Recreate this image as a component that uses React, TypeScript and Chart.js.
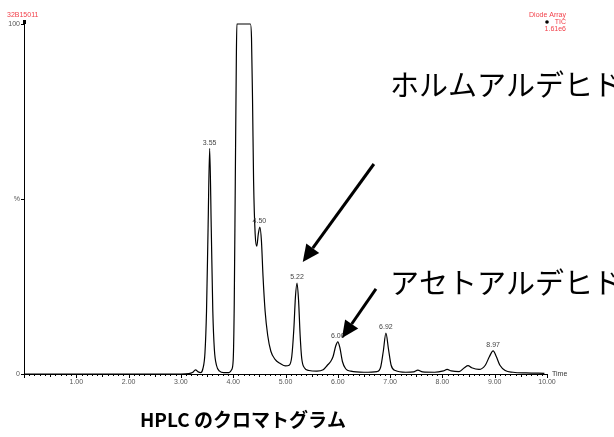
import React, { useEffect, useRef } from "react";
import { Chart, registerables } from "chart.js";

Chart.register(...registerables);

// Retention time (min) and intensity (%)
const times = [
  0.0, 0.5, 1.0, 1.5, 2.0, 2.5, 3.0, 3.15, 3.22, 3.28, 3.33, 3.38, 3.42, 3.46, 3.49, 3.52, 3.55,
  3.58, 3.61, 3.64, 3.68, 3.74, 3.82, 3.92, 3.97, 4.0, 4.02, 4.04, 4.06, 4.07, 4.33, 4.35, 4.37,
  4.39, 4.42, 4.45, 4.48, 4.51, 4.54, 4.57, 4.61, 4.66, 4.72, 4.8, 4.9, 5.0, 5.07, 5.12, 5.16,
  5.19, 5.22, 5.25, 5.28, 5.31, 5.36, 5.45, 5.6, 5.72, 5.8, 5.86, 5.91, 5.96, 6.0, 6.04, 6.09,
  6.15, 6.25, 6.5, 6.75, 6.82, 6.87, 6.92, 6.97, 7.02, 7.1, 7.3, 7.45, 7.53, 7.62, 7.85, 8.02,
  8.09, 8.17, 8.32, 8.42, 8.49, 8.56, 8.7, 8.82, 8.9, 8.97, 9.03, 9.1, 9.2, 9.35, 9.6, 9.95,
];
const signal = [
  0, 0, 0, 0, 0, 0, 0, 0.1, 0.4, 1.2, 0.6, 0.4, 1.5, 6, 18, 42, 64.5,
  42, 18, 7, 2.5, 0.8, 0.4, 0.4, 1.2, 4, 20, 55, 90, 100, 100, 96, 78,
  55, 40, 36.5, 40, 42, 38, 28, 18, 11, 6.5, 4.2, 3, 2.3, 2.5, 5, 13,
  22, 26, 21, 11, 4.5, 1.8, 1.0, 0.8, 1.2, 2.5, 3.5, 5, 8, 9.2, 7.5, 3.5,
  1.5, 0.8, 0.5, 0.7, 2, 6.5, 11.7, 7, 2.5, 1, 0.5, 0.6, 1.1, 0.6, 0.5, 0.9,
  1.3, 0.9, 0.7, 1.8, 2.4, 1.8, 1.3, 2.5, 5, 6.6, 5, 2.5, 1, 0.5, 0.3, 0.2,
];

const peakTimes = [3.55, 4.5, 5.22, 6.0, 6.92, 8.97];
const peakHeights = [64.5, 42, 26, 9.2, 11.7, 6.6];
const peakLabels = ["3.55", "4.50", "5.22", "6.00", "6.92", "8.97"];

const yTickValues = [0, 50, 100];
const yTickLabels = ["0", "%", "100"];

// Annotations (data coordinates)
const annotationTexts = ["ホルムアルデヒド", "アセトアルデヒド"];
const annotationTextPos = [
  [7.0, 82.6],
  [7.0, 26],
];
const arrowStarts = [
  [6.69, 60],
  [6.73, 24.3],
];
const arrowTips = [
  [5.33, 32],
  [6.08, 10.3],
];

const chartTitle = "HPLC のクロマトグラム";
const sampleId = "32B15011";
const detectorLines = ["Diode Array", "TIC", "1.61e6"];

const SMALL = "7px 'Liberation Sans', Arial, sans-serif";
const RED = "#f2404a";

function drawArrow(ctx: CanvasRenderingContext2D, x1: number, y1: number, x2: number, y2: number) {
  const ang = Math.atan2(y2 - y1, x2 - x1);
  const headLen = 17;
  const headW = 8;
  const bx = x2 - headLen * Math.cos(ang);
  const by = y2 - headLen * Math.sin(ang);
  ctx.save();
  ctx.strokeStyle = "#000";
  ctx.fillStyle = "#000";
  ctx.lineWidth = 3;
  ctx.beginPath();
  ctx.moveTo(x1, y1);
  ctx.lineTo(bx, by);
  ctx.stroke();
  ctx.beginPath();
  ctx.moveTo(x2, y2);
  ctx.lineTo(bx + headW * Math.sin(ang), by - headW * Math.cos(ang));
  ctx.lineTo(bx - headW * Math.sin(ang), by + headW * Math.cos(ang));
  ctx.closePath();
  ctx.fill();
  ctx.restore();
}

const decorPlugin = {
  id: "decor",
  afterDraw(chart: any) {
    const ctx: CanvasRenderingContext2D = chart.ctx;
    const xs = chart.scales.x;
    const ys = chart.scales.y;
    const area = chart.chartArea;
    ctx.save();

    // x minor/major ticks
    ctx.strokeStyle = "#000";
    ctx.lineWidth = 1;
    for (let i = 0; i <= 100; i++) {
      const px = Math.round(xs.getPixelForValue(i / 10)) + 0.5;
      const len = i % 10 === 0 ? 4 : i % 5 === 0 ? 3 : 2;
      ctx.beginPath();
      ctx.moveTo(px, area.bottom);
      ctx.lineTo(px, area.bottom + len);
      ctx.stroke();
    }
    // y ticks
    yTickValues.forEach((v) => {
      const py = Math.round(ys.getPixelForValue(v)) + 0.5;
      ctx.beginPath();
      ctx.moveTo(area.left - 3, py);
      ctx.lineTo(area.left, py);
      ctx.stroke();
    });
    // top marker on y axis
    ctx.fillStyle = "#000";
    ctx.fillRect(area.left - 1, area.top - 4, 3, 4);

    // "Time" axis title
    ctx.font = SMALL;
    ctx.fillStyle = "#333";
    ctx.textAlign = "left";
    ctx.textBaseline = "middle";
    ctx.fillText("Time", area.right + 5, area.bottom);

    // peak labels
    ctx.fillStyle = "#444";
    ctx.textAlign = "center";
    ctx.textBaseline = "bottom";
    peakTimes.forEach((t, i) => {
      ctx.fillText(peakLabels[i], xs.getPixelForValue(t), ys.getPixelForValue(peakHeights[i]) - 2);
    });

    // header texts
    ctx.fillStyle = RED;
    ctx.textBaseline = "middle";
    ctx.textAlign = "left";
    ctx.fillText(sampleId, 7, 15);
    ctx.textAlign = "right";
    ctx.fillText(detectorLines[0], 566, 15);
    ctx.fillText(detectorLines[1], 566, 22.5);
    ctx.fillText(detectorLines[2], 566, 29.5);
    ctx.fillStyle = "#000";
    ctx.beginPath();
    ctx.arc(547, 22, 1.8, 0, Math.PI * 2);
    ctx.fill();

    // annotations
    ctx.fillStyle = "#000";
    ctx.font = "29px 'Noto Sans CJK JP', sans-serif";
    ctx.textAlign = "left";
    ctx.textBaseline = "middle";
    annotationTexts.forEach((txt, i) => {
      const [tx, ty] = annotationTextPos[i];
      ctx.fillText(txt, xs.getPixelForValue(tx), ys.getPixelForValue(ty));
    });
    arrowStarts.forEach((s, i) => {
      const e = arrowTips[i];
      drawArrow(
        ctx,
        xs.getPixelForValue(s[0]),
        ys.getPixelForValue(s[1]),
        xs.getPixelForValue(e[0]),
        ys.getPixelForValue(e[1])
      );
    });

    // chart title below
    ctx.font = "bold 19px 'Noto Sans CJK JP', sans-serif";
    ctx.textAlign = "center";
    ctx.textBaseline = "middle";
    ctx.fillText(chartTitle, 243, 420);

    ctx.restore();
  },
};

export default function App() {
  const ref = useRef<HTMLCanvasElement | null>(null);
  useEffect(() => {
    if (!ref.current) return;
    const chart = new Chart(ref.current, {
      type: "line",
      data: {
        datasets: [
          {
            data: times.map((t, i) => ({ x: t, y: signal[i] })),
            borderColor: "#000",
            borderWidth: 1.2,
            pointRadius: 0,
            fill: false,
            cubicInterpolationMode: "monotone",
            clip: 4,
          } as any,
        ],
      },
      options: {
        responsive: false,
        animation: false,
        layout: { padding: { top: 24, right: 67, bottom: 0, left: 0 } },
        plugins: { legend: { display: false }, tooltip: { enabled: false }, title: { display: false } },
        scales: {
          x: {
            type: "linear",
            min: 0,
            max: 10,
            grid: { display: false, drawTicks: false },
            border: { display: true, color: "#000", width: 1 },
            afterFit: (s: any) => {
              s.height = 63;
            },
            ticks: {
              stepSize: 1,
              autoSkip: false,
              maxRotation: 0,
              padding: 4,
              color: "#555",
              font: { family: "'Liberation Sans', Arial, sans-serif", size: 7 },
              callback: (v: any) => (Number(v) > 0 ? Number(v).toFixed(2) : ""),
            },
          },
          y: {
            type: "linear",
            min: 0,
            max: 100,
            grid: { display: false, drawTicks: false },
            border: { display: true, color: "#000", width: 1 },
            afterFit: (s: any) => {
              s.width = 24;
            },
            afterBuildTicks: (s: any) => {
              s.ticks = yTickValues.map((v) => ({ value: v }));
            },
            ticks: {
              padding: 4,
              color: "#555",
              font: { family: "'Liberation Sans', Arial, sans-serif", size: 7 },
              callback: (v: any) => {
                const idx = yTickValues.indexOf(Number(v));
                return idx >= 0 ? yTickLabels[idx] : "";
              },
            },
          },
        },
      } as any,
      plugins: [decorPlugin],
    });
    return () => chart.destroy();
  }, []);
  return (
    <div style={{ position: "fixed", left: 0, top: 0, width: 614, height: 437, background: "#fff" }}>
      <canvas ref={ref} width={614} height={437} style={{ display: "block" }} />
    </div>
  );
}
